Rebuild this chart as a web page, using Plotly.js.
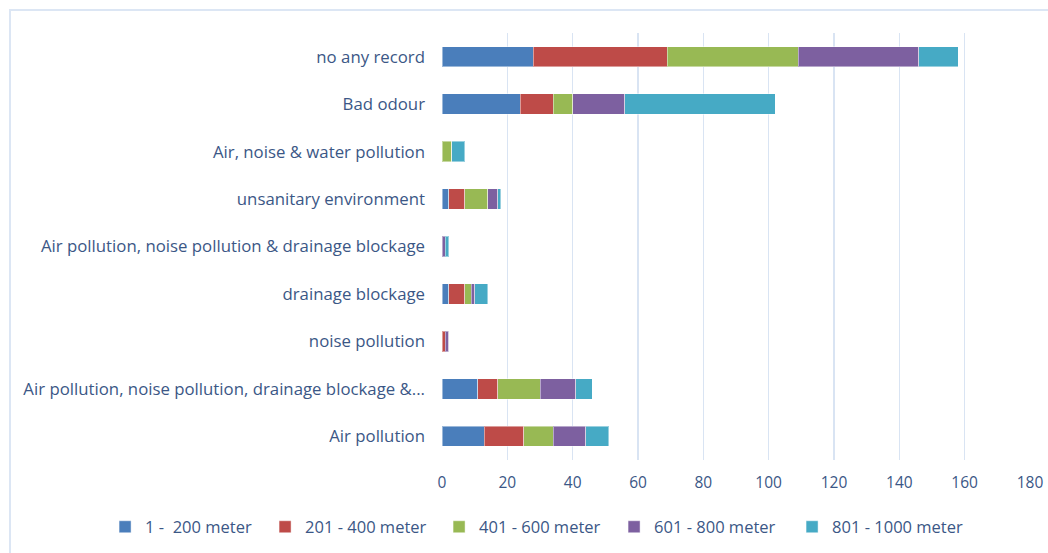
<!DOCTYPE html>
<html>
<head>
<meta charset="utf-8">
<script src="https://cdn.plot.ly/plotly-3.0.1.min.js"></script>
<style>
  html, body { margin: 0; padding: 0; background: #ffffff; }
  #wrap { position: relative; width: 1048px; height: 553px; overflow: hidden; }
  #chart { width: 1048px; height: 553px; }
  #frame { position: absolute; left: 9px; top: 9px; width: 1100px; height: 600px;
           border-left: 2px solid #DCE6F4; border-top: 2px solid #DCE6F4; pointer-events: none; }
</style>
</head>
<body>
<div id="wrap">
  <div id="chart"></div>
  <div id="frame"></div>
</div>
<script>
// Reported impacts, listed top to bottom
const categories = [
  "no any record",
  "Bad odour",
  "Air, noise & water pollution",
  "unsanitary environment",
  "Air pollution, noise pollution & drainage blockage",
  "drainage blockage",
  "noise pollution",
  "Air pollution, noise pollution, drainage blockage &...",
  "Air pollution"
];

// Distance bands
const seriesNames = ["1 -  200 meter", "201 - 400 meter", "401 - 600 meter", "601 - 800 meter", "801 - 1000 meter"];

const band1to200    = [28, 24, 0, 2, 0, 2, 0, 11, 13];
const band201to400  = [41, 10, 0, 5, 0, 5, 1, 6, 12];
const band401to600  = [40, 6, 3, 7, 0, 2, 0, 13, 9];
const band601to800  = [37, 16, 0, 3, 1, 1, 1, 11, 10];
const band801to1000 = [12, 46, 4, 1, 1, 4, 0, 5, 7];

const xTicks = [0, 20, 40, 60, 80, 100, 120, 140, 160, 180];

const seriesValues = [band1to200, band201to400, band401to600, band601to800, band801to1000];
const colors = ["#4A7EBB", "#BE4B48", "#98B954", "#7D60A0", "#46AAC5"];
// width reserved for each legend entry's text
const legendWidths = [115, 129, 130, 133, 140];

const textColor = "#3B5786";

const traces = seriesValues.map((vals, i) => ({
  type: "bar",
  orientation: "h",
  name: seriesNames[i],
  x: vals,
  y: categories,
  marker: { color: colors[i], line: { color: "rgba(255,255,255,0.45)", width: 1 } },
  legendwidth: legendWidths[i],
  hoverinfo: "x+name"
}));

const layout = {
  width: 1048,
  height: 553,
  barmode: "stack",
  bargap: 0.57,
  paper_bgcolor: "#ffffff",
  plot_bgcolor: "#ffffff",
  font: { family: "Open Sans, sans-serif", size: 15, color: textColor },
  margin: { l: 442, r: 18, t: 33, b: 93, pad: 0, autoexpand: false },
  showlegend: true,
  legend: {
    orientation: "h",
    xref: "paper",
    yref: "paper",
    x: -0.573,
    xanchor: "left",
    y: -0.157,
    yanchor: "middle",
    font: { size: 16.5, color: textColor },
    traceorder: "normal",
    bgcolor: "rgba(0,0,0,0)"
  },
  xaxis: {
    range: [0, 180],
    tickvals: xTicks,
    ticktext: xTicks.map(String),
    showgrid: true,
    gridcolor: "#D9E4F3",
    gridwidth: 1.5,
    zeroline: false,
    showline: false,
    ticks: "",
    ticklabelstandoff: 11,
    tickfont: { size: 15.5, color: textColor },
    fixedrange: true
  },
  yaxis: {
    type: "category",
    autorange: "reversed",
    showgrid: false,
    zeroline: false,
    showline: false,
    ticks: "",
    ticklabelstandoff: 16,
    tickfont: { size: 16.8, color: textColor },
    fixedrange: true
  }
};

Plotly.newPlot("chart", traces, layout, { displayModeBar: false, staticPlot: true });
</script>
</body>
</html>
